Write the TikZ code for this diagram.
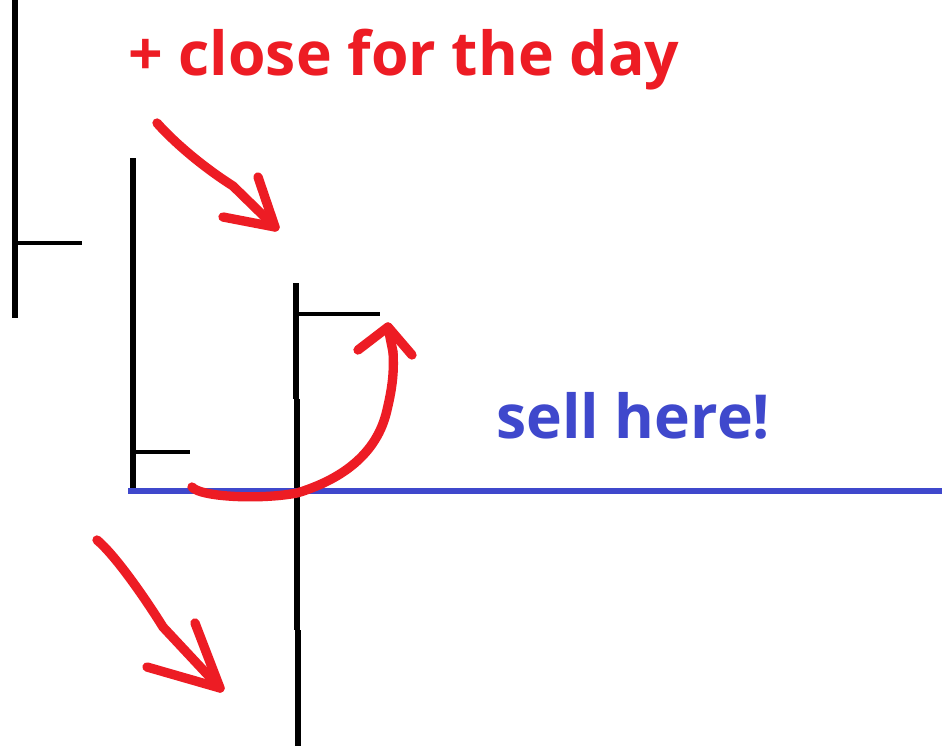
\documentclass[tikz,border=0pt]{standalone}
\usepackage{fontspec}
\setmainfont{Open Sans}
\definecolor{pred}{HTML}{ED1C24}
\definecolor{pblue}{HTML}{3F48CC}
\begin{document}
\begin{tikzpicture}[x=0.75pt,y=-0.75pt,
  bar/.style={line width=5.2pt,black},
  tick/.style={line width=3.6pt,black},
  redpen/.style={line width=7pt,pred,line cap=round,line join=round},
  bluepen/.style={line width=4.3pt,pblue},
  lbl/.style={inner sep=0pt,anchor=base west,font=\bfseries\fontsize{45.5}{52}\selectfont}]
\useasboundingbox[fill=white] (0,0) rectangle (942,750);
% bars
\draw[bar] (15,0) -- (15,318);
\draw[tick] (15,243) -- (82,243);
\draw[bar] (133,158) -- (133,490);
\draw[tick] (133,452) -- (190,452);
\draw[bar] (296,283) -- (296,399);
\draw[bar] (297,399) -- (297,630);
\draw[bar] (298,630) -- (298,746);
\draw[tick] (296,314) -- (380,314);
% blue line
\draw[bluepen] (128,491) -- (942,491);
% texts
\node[lbl,text=pred] (title) at (128,75) {+ close for the day};
\node[lbl,text=pblue] (sell) at (496,438) {sell here!};
% arrow 1
\draw[redpen] (157,123) .. controls (172,140) and (200,165) .. (233,186) -- (275,227);
\draw[redpen] (258,177) -- (275,227) -- (223,217);
% curved arrow
\draw[redpen] (192,487) .. controls (200,497) and (260,500) .. (297,493)
  .. controls (340,480) and (377,455) .. (387,410)
  .. controls (393,385) and (394,370) .. (393,352);
\draw[redpen] (358,350) -- (388,327) -- (412,355);
\draw[redpen] (393,352) -- (388,327);
% arrow 2
\draw[redpen] (97,540) .. controls (115,555) and (145,598) .. (163,627) -- (220,688);
\draw[redpen] (195,623) -- (220,688) -- (147,667);
\end{tikzpicture}
\end{document}
